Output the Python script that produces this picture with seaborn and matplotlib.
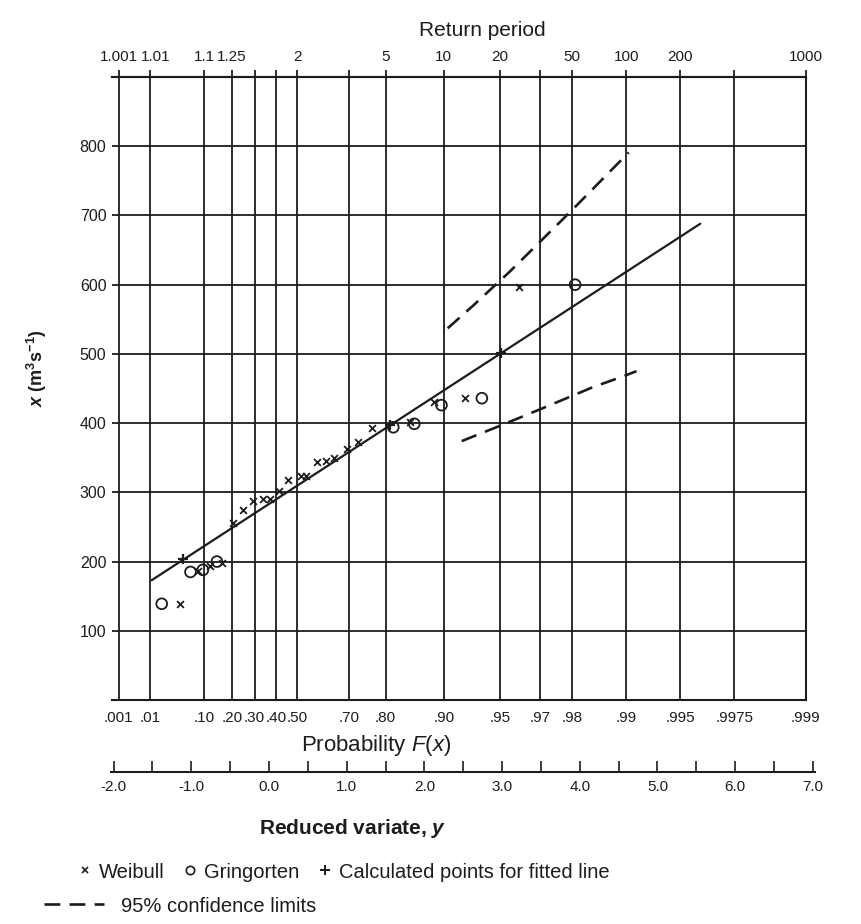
import numpy as np
import pandas as pd
import matplotlib
matplotlib.use('Agg')
import matplotlib.pyplot as plt
import matplotlib.transforms as mtransforms
from matplotlib.lines import Line2D
import seaborn as sns

# ---------------------------------------------------------------------
# data (reduced variate y, discharge x m3/s)
# ---------------------------------------------------------------------
weibull_y = [-1.15, -0.91, -0.76, -0.60, -0.46, -0.34, -0.21, -0.08, 0.01, 0.13,
             0.25, 0.41, 0.48, 0.62, 0.74, 0.84, 1.00, 1.15, 1.33, 1.81, 2.13,
             2.52, 3.22]
weibull_x = [139, 187, 193, 198, 256, 275, 288, 290, 291, 302,
             318, 323, 323, 344, 345, 350, 363, 372, 393, 401, 430,
             436, 597]

gringorten_y = [-1.38, -1.01, -0.85, -0.67, 1.60, 1.87, 2.22, 2.74, 3.94]
gringorten_x = [139, 185, 188, 200, 394, 399, 426, 436, 600]

calc_y = [-1.10, 1.56, 2.99]
calc_x = [203, 397, 501]

fit_y = [-1.51, 5.55]
fit_x = [173, 688]

upper_y = [2.30, 2.63, 3.10, 3.75, 3.92, 4.63]
upper_x = [537, 570, 619, 691, 710, 791]
lower_y = [2.48, 2.97, 3.49, 4.17, 4.52, 4.73]
lower_x = [374, 396, 420, 452, 466, 475]

# probability grid of the paper and the matching return periods
prob_F = [0.001, 0.01, 0.10, 0.20, 0.30, 0.40, 0.50, 0.70, 0.80, 0.90,
          0.95, 0.97, 0.98, 0.99, 0.995, 0.9975, 0.999]
prob_labels = ['.001', '.01', '.10', '.20', '.30', '.40', '.50', '.70', '.80', '.90',
               '.95', '.97', '.98', '.99', '.995', '.9975', '.999']
return_labels = ['1.001', '1.01', '1.1', '1.25', '', '', '2', '', '5', '10',
                 '20', '', '50', '100', '200', '', '1000']
x_ticks = [100, 200, 300, 400, 500, 600, 700, 800, 900]
x_tick_labels = ['100', '200', '300', '400', '500', '600', '700', '800', '']
reduced_major = [-2, -1, 0, 1, 2, 3, 4, 5, 6, 7]
reduced_minor = [-1.5, -0.5, 0.5, 1.5, 2.5, 3.5, 4.5, 5.5, 6.5]

# Gumbel reduced variate of each probability line
prob_y = -np.log(-np.log(np.array(prob_F)))

# ---------------------------------------------------------------------
# style
# ---------------------------------------------------------------------
sns.set_theme(style='white')
plt.rcParams['font.family'] = ['Liberation Sans', 'DejaVu Sans']
plt.rcParams['mathtext.fontset'] = 'custom'
plt.rcParams['mathtext.rm'] = 'Liberation Sans'
plt.rcParams['mathtext.it'] = 'Liberation Sans:italic'
plt.rcParams['mathtext.bf'] = 'Liberation Sans:bold'
plt.rcParams['mathtext.bfit'] = 'Liberation Sans:italic:bold'
ink = '#1c1c1c'

fig = plt.figure(figsize=(8.61, 9.24), dpi=100)
W, H = 861, 924

# main probability paper
ax = fig.add_axes([112 / W, 224 / H, (805.7 - 112) / W, 623 / H])
ax.set_xlim(-2.02, prob_y[-1])
ax.set_ylim(0, 900)

df_w = pd.DataFrame({'y': weibull_y, 'x': weibull_x})
df_g = pd.DataFrame({'y': gringorten_y, 'x': gringorten_x})
df_c = pd.DataFrame({'y': calc_y, 'x': calc_x})

sns.lineplot(x=fit_y, y=fit_x, ax=ax, color=ink, lw=1.6, zorder=3)
sns.lineplot(x=upper_y, y=upper_x, ax=ax, color=ink, lw=1.9,
             linestyle=(0, (6, 3.5)), zorder=3)
sns.lineplot(x=lower_y, y=lower_x, ax=ax, color=ink, lw=1.9,
             linestyle=(0, (6, 3.5)), zorder=3)
sns.scatterplot(data=df_w, x='y', y='x', ax=ax, marker='x', s=24,
                color=ink, linewidth=1.3, zorder=4)
sns.scatterplot(data=df_g, x='y', y='x', ax=ax, marker='o', s=60,
                facecolor='none', edgecolor=ink, linewidth=1.3, zorder=4)
sns.scatterplot(data=df_c, x='y', y='x', ax=ax, marker='+', s=60,
                color=ink, linewidth=1.6, zorder=5)

ax.set_xticks(prob_y, prob_labels)
ax.set_yticks(x_ticks, x_tick_labels)
ax.grid(True, color=ink, lw=1.3)
ax.tick_params(length=0, labelsize=11, colors=ink)
ax.tick_params(axis='x', pad=8)
ax.tick_params(axis='y', pad=4, labelsize=11.5)
ax.set_xlabel('')
ax.set_ylabel('')
for side in ['top', 'bottom', 'right']:
    ax.spines[side].set_color(ink)
    ax.spines[side].set_linewidth(1.5)
ax.spines['left'].set_visible(False)

# return period scale on top
sec = ax.secondary_xaxis('top')
sec.set_xticks(prob_y, return_labels)
sec.tick_params(length=5, width=1.3, direction='out', labelsize=11,
                colors=ink, pad=4)
sec.spines['top'].set_color(ink)
sec.spines['top'].set_linewidth(1.5)
nudge = mtransforms.ScaledTranslation(4 / 72, 0, fig.dpi_scale_trans)
for lab in sec.get_xticklabels():
    if lab.get_text() == '1.01':
        lab.set_transform(lab.get_transform() + nudge)

# reduced variate scale underneath
axr = fig.add_axes([111.3 / W, 152 / H, (815.2 - 111.3) / W, 0.0001])
axr.set_xlim(-2.03, 7.03)
axr.set_xticks(reduced_major, [f'{v:.1f}' for v in reduced_major])
axr.set_xticks(reduced_minor, minor=True)
axr.set_yticks([])
axr.tick_params(axis='x', which='both', direction='in', length=8, width=1.2,
                colors=ink, labelsize=11, pad=6, bottom=True)
for side in ['top', 'left', 'right']:
    axr.spines[side].set_visible(False)
axr.spines['bottom'].set_color(ink)
axr.spines['bottom'].set_linewidth(1.5)

# titles
fig.text(482 / W, 1 - 31 / H, 'Return period', ha='center', va='center',
         size=15, color=ink)
fig.text(376 / W, 1 - 746 / H, r'Probability $F(x)$', ha='center', va='center',
         size=16, color=ink)
fig.text(353 / W, 1 - 829 / H, r'Reduced variate, $\mathbfit{y}$', ha='center',
         va='center', size=15, weight='bold', color=ink)
fig.text(37 / W, 1 - 368 / H, r'$\mathbfit{x}$ (m$^{\mathbf{3}}$s$^{\mathbf{-1}}$)',
         ha='center', va='center', rotation=90, size=13, weight='bold', color=ink)

# key
h1 = [Line2D([], [], ls='none', marker='x', ms=5, mew=1.2, color=ink),
      Line2D([], [], ls='none', marker='o', ms=6, mew=1.2, mfc='none', color=ink),
      Line2D([], [], ls='none', marker='+', ms=7, mew=1.4, color=ink)]
fig.legend(h1, ['Weibull', 'Gringorten', 'Calculated points for fitted line'],
           loc='center left', bbox_to_anchor=(78 / W, 1 - 872 / H), ncol=3,
           frameon=False, fontsize=14.5, handlelength=0.7, handletextpad=0.35,
           columnspacing=0.9, borderpad=0, borderaxespad=0, labelcolor=ink)
h2 = [Line2D([], [], color=ink, lw=1.9, ls=(0, (6, 3.5)))]
fig.legend(h2, ['95% confidence limits'], loc='center left',
           bbox_to_anchor=(44 / W, 1 - 906 / H), frameon=False, fontsize=14.5,
           handlelength=3.0, handletextpad=0.8, borderpad=0, borderaxespad=0,
           labelcolor=ink)

fig.savefig('out.png', dpi=100, facecolor='white')
